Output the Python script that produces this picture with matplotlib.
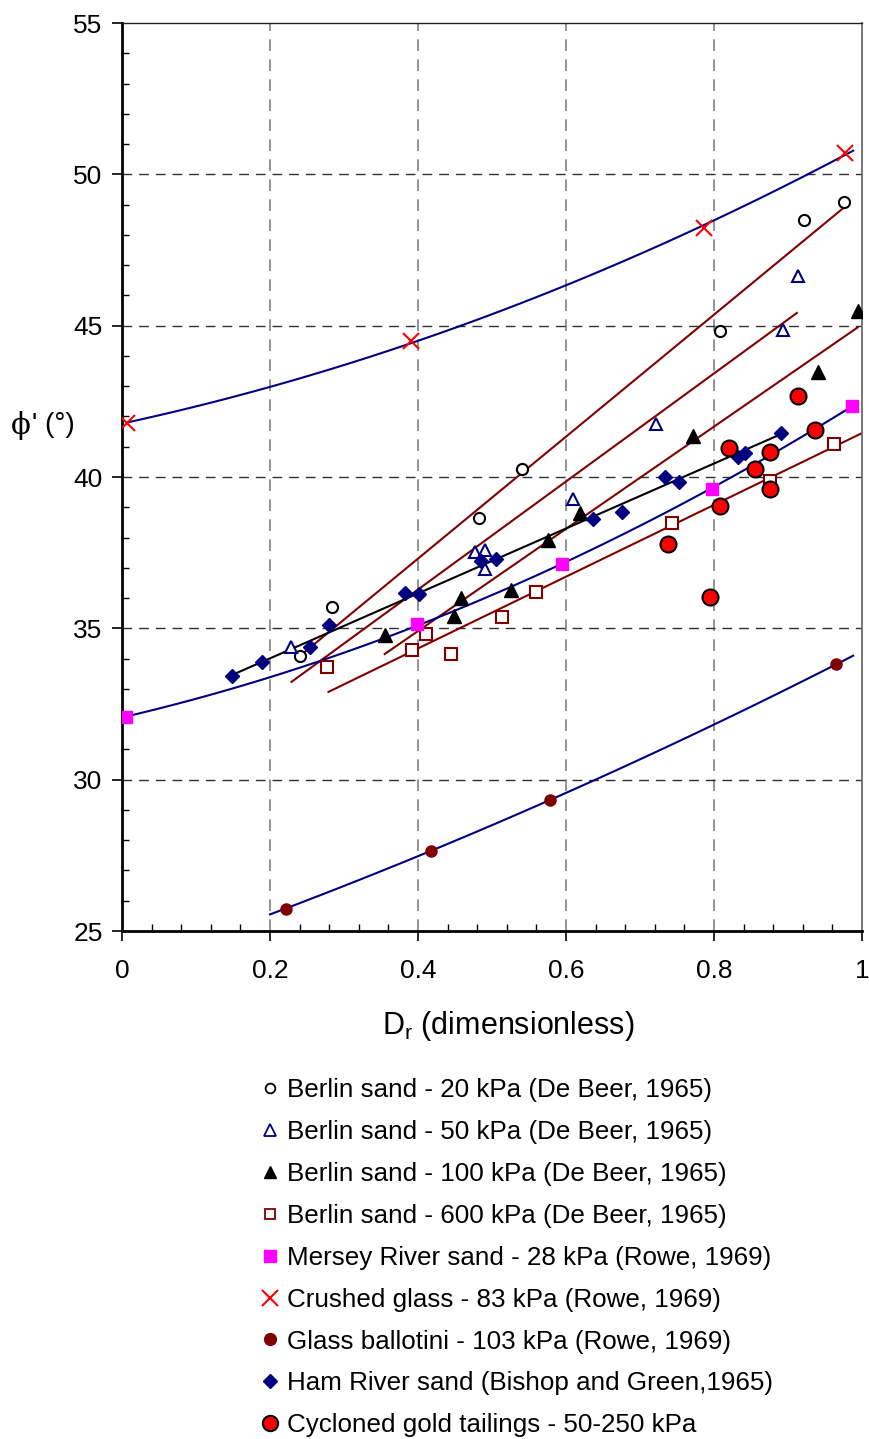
import numpy as np
import matplotlib
matplotlib.use("Agg")
import matplotlib.pyplot as plt
from matplotlib.lines import Line2D
from matplotlib.ticker import MultipleLocator, FuncFormatter

plt.rcParams['font.family'] = ['Liberation Sans', 'DejaVu Sans']

# ---- measured data: relative density Dr vs friction angle phi' (deg) ----
berlin20_dr = [0.241, 0.284, 0.482, 0.541, 0.808, 0.922, 0.976]
berlin20_phi = [34.08, 35.71, 38.63, 40.28, 44.84, 48.49, 49.10]

berlin50_dr = [0.229, 0.477, 0.491, 0.491, 0.609, 0.721, 0.893, 0.913]
berlin50_phi = [34.39, 37.53, 37.59, 36.97, 39.26, 41.75, 44.85, 46.65]

berlin100_dr = [0.356, 0.448, 0.458, 0.526, 0.575, 0.619, 0.772, 0.940, 0.994]
berlin100_phi = [34.78, 35.41, 35.99, 36.27, 37.92, 38.82, 41.35, 43.48, 45.49]

berlin600_dr = [0.277, 0.392, 0.411, 0.444, 0.514, 0.560, 0.743, 0.875, 0.962]
berlin600_phi = [33.73, 34.28, 34.80, 34.14, 35.38, 36.19, 38.49, 39.88, 41.08]

mersey_dr = [0.006, 0.399, 0.595, 0.797, 0.986]
mersey_phi = [32.08, 35.13, 37.11, 39.62, 42.34]

crushed_dr = [0.007, 0.390, 0.787, 0.977]
crushed_phi = [41.78, 44.49, 48.22, 50.70]

ballotini_dr = [0.221, 0.417, 0.578, 0.965]
ballotini_phi = [25.74, 27.65, 29.32, 33.81]

ham_dr = [0.148, 0.189, 0.254, 0.280, 0.383, 0.402, 0.485, 0.505, 0.637,
          0.675, 0.734, 0.753, 0.832, 0.842, 0.890]
ham_phi = [33.43, 33.90, 34.37, 35.11, 36.18, 36.15, 37.22, 37.28, 38.60,
           38.86, 39.99, 39.84, 40.67, 40.78, 41.44]

tailings_dr = [0.738, 0.794, 0.808, 0.820, 0.856, 0.875, 0.875, 0.914, 0.937]
tailings_phi = [37.77, 36.04, 39.04, 40.95, 40.28, 40.82, 39.62, 42.67, 41.55]

# straight trend lines (end points)
berlin20_fit_dr, berlin20_fit_phi = [0.245, 0.977], [34.18, 48.93]
berlin50_fit_dr, berlin50_fit_phi = [0.229, 0.912], [33.23, 45.42]
berlin100_fit_dr, berlin100_fit_phi = [0.355, 0.994], [34.15, 44.94]
berlin600_fit_dr, berlin600_fit_phi = [0.279, 1.000], [32.90, 41.45]
ham_fit_dr, ham_fit_phi = [0.148, 0.889], [33.45, 41.40]

# Dr span of the curved (quadratic) trend lines
mersey_span = [0.006, 0.986]
crushed_span = [0.007, 0.988]
ballotini_span = [0.200, 0.988]

x_ticks = [0, 0.2, 0.4, 0.6, 0.8, 1.0]
y_ticks = [25, 30, 35, 40, 45, 50, 55]

legend_labels = [
    "Berlin sand - 20 kPa (De Beer, 1965)",
    "Berlin sand - 50 kPa (De Beer, 1965)",
    "Berlin sand - 100 kPa (De Beer, 1965)",
    "Berlin sand - 600 kPa (De Beer, 1965)",
    "Mersey River sand - 28 kPa (Rowe, 1969)",
    "Crushed glass - 83 kPa (Rowe, 1969)",
    "Glass ballotini - 103 kPa (Rowe, 1969)",
    "Ham River sand (Bishop and Green,1965)",
    "Cycloned gold tailings - 50-250 kPa",
]

NAVY = '#000080'
MAROON = '#800000'
MAGENTA = '#FF00FF'
RED = '#FF0000'

W, H = 869, 1439
fig = plt.figure(figsize=(W / 100, H / 100), dpi=100)
ax = fig.add_axes([122 / W, 1 - 931 / H, 740 / W, 908 / H])

ax.set_xlim(0, 1)
ax.set_ylim(25, 55)

# grid
for xv in x_ticks[1:-1]:
    ax.axvline(xv, color='#808080', lw=1.2, dashes=(7, 5), zorder=0)
for yv in y_ticks[1:-1]:
    ax.axhline(yv, color='#303030', lw=1.0, dashes=(7, 5), zorder=0)


def curve(dr, phi, span):
    coef = np.polyfit(dr, phi, 2)
    xs = np.linspace(span[0], span[1], 100)
    return xs, np.polyval(coef, xs)


LW = 1.5
for fx, fy in [(berlin20_fit_dr, berlin20_fit_phi), (berlin50_fit_dr, berlin50_fit_phi),
               (berlin100_fit_dr, berlin100_fit_phi), (berlin600_fit_dr, berlin600_fit_phi)]:
    ax.plot(fx, fy, color=MAROON, lw=LW, zorder=2)
ax.plot(ham_fit_dr, ham_fit_phi, color='black', lw=LW, zorder=2)
for d, p, s in [(mersey_dr, mersey_phi, mersey_span),
                (crushed_dr, crushed_phi, crushed_span),
                (ballotini_dr, ballotini_phi, ballotini_span)]:
    xs, ys = curve(d, p, s)
    ax.plot(xs, ys, color=NAVY, lw=LW, zorder=2)

# markers
ax.plot(berlin20_dr, berlin20_phi, 'o', ms=8, mfc='white', mec='black', mew=1.5, ls='none', zorder=3)
ax.plot(berlin50_dr, berlin50_phi, '^', ms=9, mfc='white', mec=NAVY, mew=1.5, ls='none', zorder=3)
ax.plot(berlin100_dr, berlin100_phi, '^', ms=10, mfc='black', mec='black', ls='none', zorder=3)
ax.plot(berlin600_dr, berlin600_phi, 's', ms=8, mfc='white', mec=MAROON, mew=1.5, ls='none', zorder=3)
ax.plot(mersey_dr, mersey_phi, 's', ms=8.5, mfc=MAGENTA, mec=MAGENTA, ls='none', zorder=3)
ax.plot(crushed_dr, crushed_phi, 'x', ms=12, mec=RED, mew=1.5, ls='none', zorder=3)
ax.plot(ballotini_dr, ballotini_phi, 'o', ms=8, mfc=MAROON, mec=MAROON, ls='none', zorder=3)
ax.plot(ham_dr, ham_phi, 'D', ms=7.5, mfc=NAVY, mec=NAVY, ls='none', zorder=3)
ax.plot(tailings_dr, tailings_phi, 'o', ms=11.5, mfc=RED, mec='black', mew=1.5, ls='none', zorder=4)

# axes styling
ax.set_xticks(x_ticks)
ax.set_yticks(y_ticks)
ax.xaxis.set_major_formatter(FuncFormatter(lambda v, _: f"{v:g}"))
ax.xaxis.set_minor_locator(MultipleLocator(0.04))
ax.yaxis.set_minor_locator(MultipleLocator(1))
ax.tick_params(axis='both', which='major', direction='out', length=7, width=1.2,
               labelsize=19, colors='black')
ax.tick_params(axis='y', which='major', pad=7)
ax.tick_params(axis='x', which='major', pad=13)
ax.tick_params(axis='both', which='minor', direction='in', length=5, width=1.0)
for side in ['left', 'bottom']:
    ax.spines[side].set_linewidth(2.0)
    ax.spines[side].set_color('black')
ax.spines['top'].set_linewidth(1.0)
ax.spines['top'].set_color('#202020')
ax.spines['right'].set_linewidth(1.2)
ax.spines['right'].set_color('#606060')

# axis titles
fig.text(508 / W, 1 - 1026 / H, r"D$_\mathregular{r}$ (dimensionless)", ha='center', va='center',
         fontsize=22)
fig.text(11 / W, 1 - 425 / H, "ϕ", ha='left', va='center', fontsize=21,
         family=['DejaVu Serif'])
fig.text(32 / W, 1 - 425 / H, "' (°)", ha='left', va='center', fontsize=20)

# legend
handles = [
    Line2D([], [], ls='none', marker='o', ms=7, mfc='white', mec='black', mew=1.3),
    Line2D([], [], ls='none', marker='^', ms=8, mfc='white', mec=NAVY, mew=1.3),
    Line2D([], [], ls='none', marker='^', ms=9, mfc='black', mec='black'),
    Line2D([], [], ls='none', marker='s', ms=7, mfc='white', mec=MAROON, mew=1.3),
    Line2D([], [], ls='none', marker='s', ms=8, mfc=MAGENTA, mec=MAGENTA),
    Line2D([], [], ls='none', marker='x', ms=12, mec=RED, mew=1.5),
    Line2D([], [], ls='none', marker='o', ms=8.5, mfc=MAROON, mec=MAROON),
    Line2D([], [], ls='none', marker='D', ms=7.5, mfc=NAVY, mec=NAVY),
    Line2D([], [], ls='none', marker='o', ms=11, mfc=RED, mec='black', mew=1.5),
]
fig.legend(handles, legend_labels, loc='upper left', bbox_to_anchor=(262 / W, 1 - 1078 / H),
           frameon=False, fontsize=18.7, handlelength=0.6, handletextpad=0.35,
           labelspacing=0.69, borderpad=0, borderaxespad=0)

fig.savefig("out.png", dpi=100)
